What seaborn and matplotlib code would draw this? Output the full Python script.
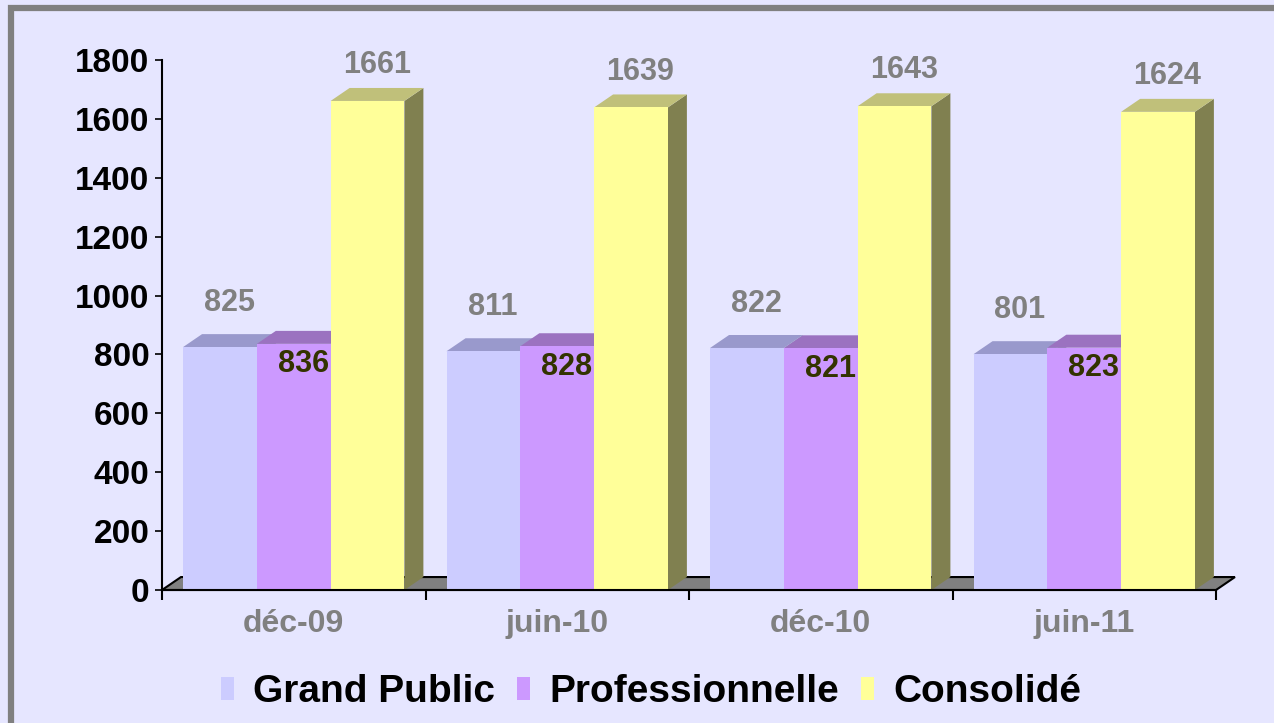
import matplotlib
matplotlib.use("Agg")
import matplotlib.pyplot as plt
from matplotlib.patches import Polygon, Patch, Rectangle
import seaborn as sns
import pandas as pd

periods = ["déc-09", "juin-10", "déc-10", "juin-11"]
series = ["Grand Public", "Professionnelle", "Consolidé"]
grand_public = [825, 811, 822, 801]
professionnelle = [836, 828, 821, 823]
consolide = [1661, 1639, 1643, 1624]
y_ticks = [0, 200, 400, 600, 800, 1000, 1200, 1400, 1600, 1800]

front_colors = ["#CCCCFF", "#CC99FF", "#FFFF99"]
top_colors = ["#9999CC", "#9B72C0", "#C0C07A"]
side_colors = ["#9999BF", "#8A66B0", "#808050"]
label_colors = ["#808080", "#333300", "#808080"]
BG = "#E6E6FF"

df = pd.DataFrame({
    "period": periods * 3,
    "serie": [s for s in series for _ in periods],
    "value": grand_public + professionnelle + consolide,
})

sns.set_theme(style="white")
plt.rcParams["font.family"] = ["Liberation Sans", "DejaVu Sans"]

W, H = 1274, 723
fig = plt.figure(figsize=(W / 100, H / 100), dpi=100, facecolor=BG)
ax = fig.add_axes([162 / W, 1 - 590 / H, (1216 - 162) / W, (590 - 60) / H])
ax.set_facecolor(BG)

sns.barplot(data=df, x="period", y="value", hue="serie", order=periods,
            hue_order=series, palette=front_colors, saturation=1, width=0.84,
            gap=0, linewidth=0, edgecolor="none", legend=False, ax=ax, errorbar=None)

ax.set_xlim(-0.5, 3.5)
ax.set_ylim(0, 1800)
dx = 0.072   # depth offset in category units
dy = 44      # depth offset in value units

# floor
floor = Polygon([(-0.5, 0), (3.5, 0), (3.5 + dx, dy), (-0.5 + dx, dy)], closed=True,
                facecolor="#808080", edgecolor="black", lw=1.5, clip_on=False, zorder=1)
ax.add_patch(floor)

# 3D faces
bars = []
for hi, cont in enumerate(ax.containers):
    for p in cont.patches:
        bars.append((p.get_x(), hi, p))
bars.sort(key=lambda t: t[0])
for k, (x0, hi, p) in enumerate(bars):
    w = p.get_width()
    h = p.get_height()
    p.set_zorder(3 + 2 * k)
    top = Polygon([(x0, h), (x0 + w, h), (x0 + w + dx, h + dy), (x0 + dx, h + dy)],
                  closed=True, facecolor=top_colors[hi], edgecolor="none", zorder=2 + 2 * k)
    side = Polygon([(x0 + w, 0), (x0 + w + dx, dy), (x0 + w + dx, h + dy), (x0 + w, h)],
                   closed=True, facecolor=side_colors[hi], edgecolor="none",
                   zorder=2 + 2 * k, clip_on=False)
    ax.add_patch(side)
    ax.add_patch(top)
    cx = x0 + w / 2 + dx / 2
    if hi == 1:
        ax.annotate(f"{int(round(h))}", (cx, h), xytext=(0, -4), textcoords="offset points",
                    ha="center", va="top", fontsize=22, fontweight="bold",
                    color=label_colors[hi], zorder=100)
    else:
        off = 21 if hi == 0 else 15
        ax.annotate(f"{int(round(h))}", (cx, h), xytext=(0, off), textcoords="offset points",
                    ha="center", va="bottom", fontsize=22, fontweight="bold",
                    color=label_colors[hi], zorder=100)

# axes styling
for s in ["top", "right"]:
    ax.spines[s].set_visible(False)
for s in ["left", "bottom"]:
    ax.spines[s].set_color("black")
    ax.spines[s].set_linewidth(1.5)
    ax.spines[s].set_zorder(200)
ax.set_yticks(y_ticks)
ax.set_yticklabels([str(v) for v in y_ticks], fontsize=24, fontweight="bold", color="black")
ax.tick_params(axis="y", direction="out", length=5, width=1.2, color="black", left=True, pad=4)
ax.set_xticks(range(len(periods)))
ax.set_xticklabels(periods, fontsize=23, fontweight="bold", color="#808080")
ax.tick_params(axis="x", which="major", length=0, pad=14)
ax.set_xticks([i - 0.5 for i in range(len(periods) + 1)], minor=True)
ax.tick_params(axis="x", which="minor", direction="out", length=7, width=1.5,
               color="black", bottom=True)
ax.set_xlabel("")
ax.set_ylabel("")
ax.grid(False)

# legend
handles = [Patch(facecolor=c, edgecolor="none") for c in front_colors]
fig.legend(handles, series, loc="center", bbox_to_anchor=(0.511, 1 - 692 / H), ncol=3,
           frameon=False, prop={"size": 28, "weight": "bold"}, labelcolor="black",
           handlelength=0.34, handleheight=0.55, handletextpad=0.5, columnspacing=0.55)

# frame
fig.patches.append(Rectangle((11 / W, -0.1), 1.2, 1 - 8 / H + 0.1, transform=fig.transFigure,
                             facecolor="none", edgecolor="#808080", lw=4.5, zorder=0))

fig.savefig("out.png", dpi=100, facecolor=BG)
